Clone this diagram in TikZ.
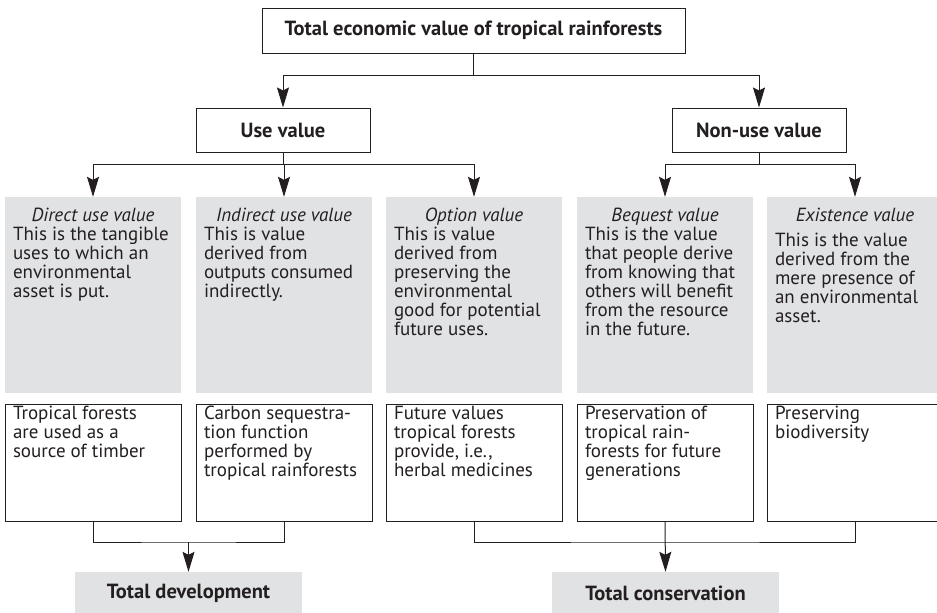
\documentclass[tikz,border=0pt]{standalone}
\usepackage{fontspec}
\setmainfont{PT Sans}
\usetikzlibrary{arrows.meta}
\definecolor{ink}{HTML}{231F20}
\definecolor{panel}{HTML}{E1E2E4}
\newcommand{\txt}{\fontsize{19pt}{19pt}\selectfont}
\newcommand{\hdrtxt}{\fontsize{20.5pt}{21pt}\selectfont\bfseries}
% gray description panel: italic centred title, left-aligned body, top aligned
\newcommand{\panelbody}[3][0pt]{%
  \parbox[c][196pt][t]{160pt}{\txt
    {\centering\itshape\rule{0pt}{24pt}#2\par}\vspace*{#1}%
    \raggedright #3\par}}
% white example box, text top aligned
\newcommand{\examplebody}[1]{%
  \parbox[c][117pt][t]{160pt}{\txt\raggedright\rule{0pt}{15pt}#1\par}}
\tikzset{
  hdr/.style={draw=ink, line width=1pt, fill=white, text=ink,
    font=\hdrtxt, inner sep=0pt},
  panelbox/.style={fill=panel, text=ink, inner xsep=8pt, inner ysep=0pt,
    minimum width=176pt},
  examplebox/.style={draw=ink, line width=1pt, fill=white, text=ink,
    inner xsep=8pt, inner ysep=0pt, minimum width=176pt},
  totalbox/.style={fill=panel, text=ink, font=\hdrtxt, inner sep=0pt,
    minimum width=227pt, minimum height=42pt},
  link/.style={draw=ink, line width=1pt},
  arr/.style={link, -{Stealth[length=20pt,width=12pt,inset=3pt]}},
}
\begin{document}
\begin{tikzpicture}[x=1pt,y=-1pt]
\clip (0,0) rectangle (937,613);
\fill[white] (0,0) rectangle (937,613);

% top level
\node[hdr, minimum width=423pt, minimum height=45pt] (tev) at (473.5,30.5)
  {Total economic value of tropical rainforests};
\node[hdr, minimum width=174pt, minimum height=44pt] (use) at (283,130) {Use value};
\node[hdr, minimum width=174pt, minimum height=44pt] (nonuse) at (759,130) {Non-use value};

% description panels
\node[panelbox] (direct) at (93,295) {\panelbody{Direct use value}{%
  This is the tangible\\ uses to which an\\ environmental\\ asset is put.}};
\node[panelbox] (indirect) at (284,295) {\panelbody{Indirect use value}{%
  This is value\\ derived from\\ outputs consumed\\ indirectly.}};
\node[panelbox] (option) at (474,295) {\panelbody{Option value}{%
  This is value\\ derived from\\ preserving the\\ environmental\\ good for potential\\ future uses.}};
\node[panelbox] (bequest) at (665,295) {\panelbody{Bequest value}{%
  This is the value\\ that people derive\\ from knowing that\\ others will benefit\\ from the resource\\ in the future.}};
\node[panelbox] (existence) at (855,295) {\panelbody[6pt]{Existence value}{%
  This is the value\\ derived from the\\ mere presence of\\ an environmental\\ asset.}};

% examples
\node[examplebox] (ex1) at (93,462.5) {\examplebody{Tropical forests\\ are used as a\\ source of timber}};
\node[examplebox] (ex2) at (284,462.5) {\examplebody{Carbon sequestra-\\ tion function\\ performed by\\ tropical rainforests}};
\node[examplebox] (ex3) at (474,462.5) {\examplebody{Future values\\ tropical forests\\ provide, i.e.,\\ herbal medicines}};
\node[examplebox] (ex4) at (665,462.5) {\examplebody{Preservation of\\ tropical rain-\\ forests for future\\ generations}};
\node[examplebox] (ex5) at (855,462.5) {\examplebody{Preserving\\ biodiversity}};

% outcomes
\node[totalbox] (dev) at (188.5,593) {Total development};
\node[totalbox] (cons) at (665.5,593) {Total conservation};

% connectors: top level split
\coordinate (jtop) at (473.5,75);
\draw[link] (tev.south) -- (jtop);
\draw[arr] (jtop) -| (use.north);
\draw[arr] (jtop) -| (nonuse.north);

% use value branches
\coordinate (juse) at (283,164);
\draw[link] (use.south) -- (juse);
\draw[arr] (juse) -| (direct.north);
\draw[arr] (juse) -- (juse -| indirect.north) -- (indirect.north);
\draw[arr] (juse) -| (option.north);

% non-use value branches
\coordinate (jnon) at (759,164);
\draw[link] (nonuse.south) -- (jnon);
\draw[arr] (jnon) -| (bequest.north);
\draw[arr] (jnon) -| (existence.north);

% merge into outcomes
\coordinate (jdev) at (188.5,542);
\draw[link] (ex1.south) |- (jdev) -| (ex2.south);
\draw[arr] (jdev) -- (dev.north);
\coordinate (jcons) at (665.5,542);
\draw[link] (ex3.south) |- (jcons) -| (ex5.south);
\draw[arr] (ex4.south) -- (cons.north);
\end{tikzpicture}
\end{document}
